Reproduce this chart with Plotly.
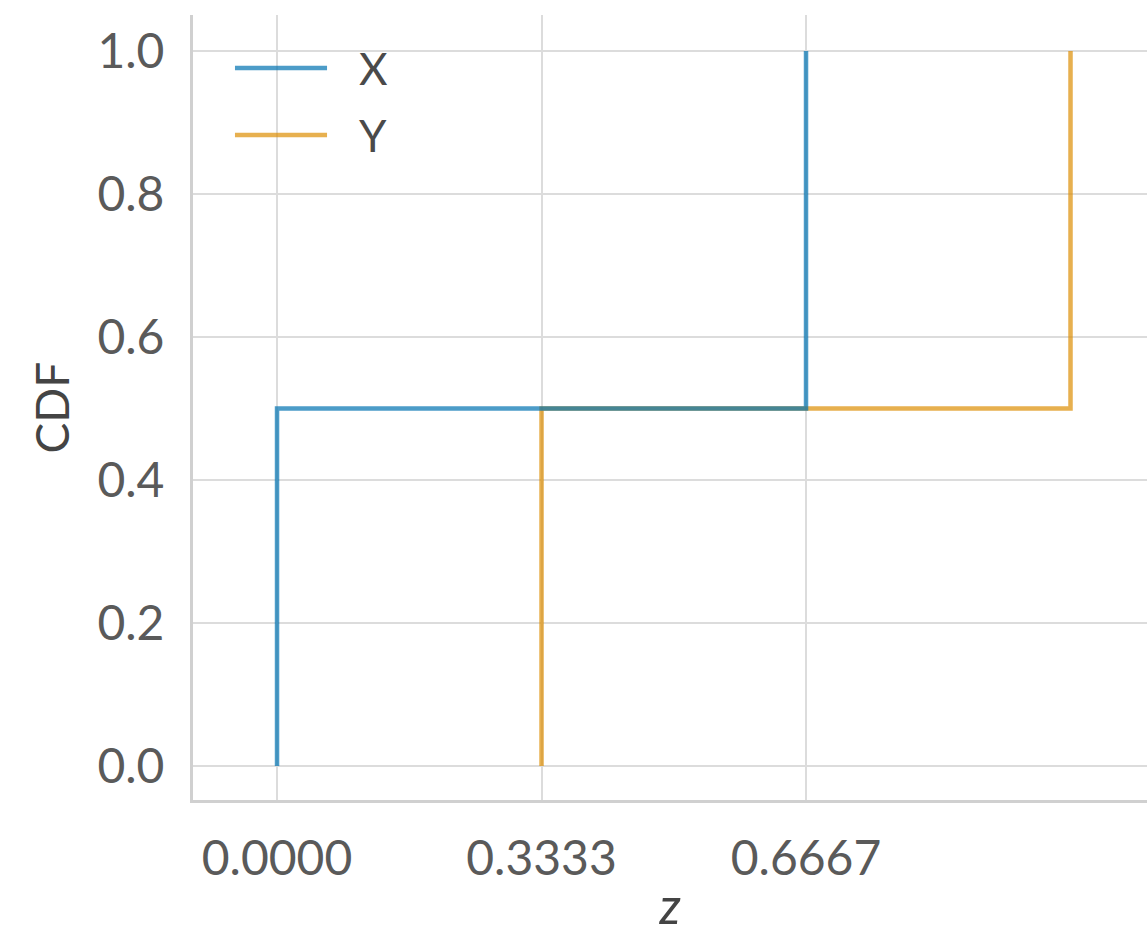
import plotly.graph_objects as go

# data
x_steps_z = [0.0, 0.0, 2/3, 2/3]
x_steps_cdf = [0.0, 0.5, 0.5, 1.0]
y_steps_z = [1/3, 1/3, 1.0, 1.0]
y_steps_cdf = [0.0, 0.5, 0.5, 1.0]
series_names = ["X", "Y"]
xtick_vals = [0.0, 1/3, 2/3]
xtick_text = ["0.0000", "0.3333", "0.6667"]
ytick_vals = [0.0, 0.2, 0.4, 0.6, 0.8, 1.0]
ytick_text = ["0.0", "0.2", "0.4", "0.6", "0.8", "1.0"]

FONT = "Lato"
TICK = "#5a5a5a"
BLUE = "#0173b2"
ORANGE = "#de8f05"

fig = go.Figure()
# draw Y first so X sits on top where they overlap
fig.add_trace(go.Scatter(x=y_steps_z, y=y_steps_cdf, mode="lines", name=series_names[1],
                         line=dict(color=ORANGE, width=4.5), opacity=0.7, showlegend=False))
fig.add_trace(go.Scatter(x=x_steps_z, y=x_steps_cdf, mode="lines", name=series_names[0],
                         line=dict(color=BLUE, width=4.5), opacity=0.7, showlegend=False))

# manual legend (long line samples like the reference)
for name, col, yp in [(series_names[0], BLUE, 0.9325), (series_names[1], ORANGE, 0.847)]:
    fig.add_shape(type="line", xref="paper", yref="paper", x0=0.044, x1=0.1405, y0=yp, y1=yp,
                  line=dict(color=col, width=4.5), opacity=0.7)
    fig.add_annotation(xref="paper", yref="paper", x=0.172, y=yp, text=name, showarrow=False,
                       xanchor="left", yanchor="middle",
                       font=dict(size=44, color="#4a4a4a", family=FONT))

fig.update_layout(
    width=1147, height=935,
    margin=dict(l=193, r=0, t=15, b=135),
    paper_bgcolor="white", plot_bgcolor="white",
    font=dict(family=FONT, color=TICK, size=48),
    showlegend=False,
    xaxis=dict(range=[-0.1059, 1.0964], tickvals=xtick_vals, ticktext=xtick_text,
               showgrid=True, gridcolor="#dcdcdc", gridwidth=2,
               showline=True, linecolor="#d0d0d0", linewidth=3,
               zeroline=False, ticks="outside", ticklen=14, tickcolor="rgba(0,0,0,0)",
               tickfont=dict(size=48, color=TICK, family=FONT),
               title=dict(text="<i>z</i>", font=dict(size=50, color="#444", family=FONT), standoff=12)),
    yaxis=dict(range=[-0.0476, 1.0503], tickvals=ytick_vals, ticktext=ytick_text,
               showgrid=True, gridcolor="#dcdcdc", gridwidth=2,
               showline=True, linecolor="#d0d0d0", linewidth=3,
               zeroline=False, ticks="outside", ticklen=16, tickcolor="rgba(0,0,0,0)",
               tickfont=dict(size=48, color=TICK, family=FONT),
               title=dict(text="CDF", font=dict(size=46, color="#444", family=FONT), standoff=14)),
)

fig.write_html("out.html")
